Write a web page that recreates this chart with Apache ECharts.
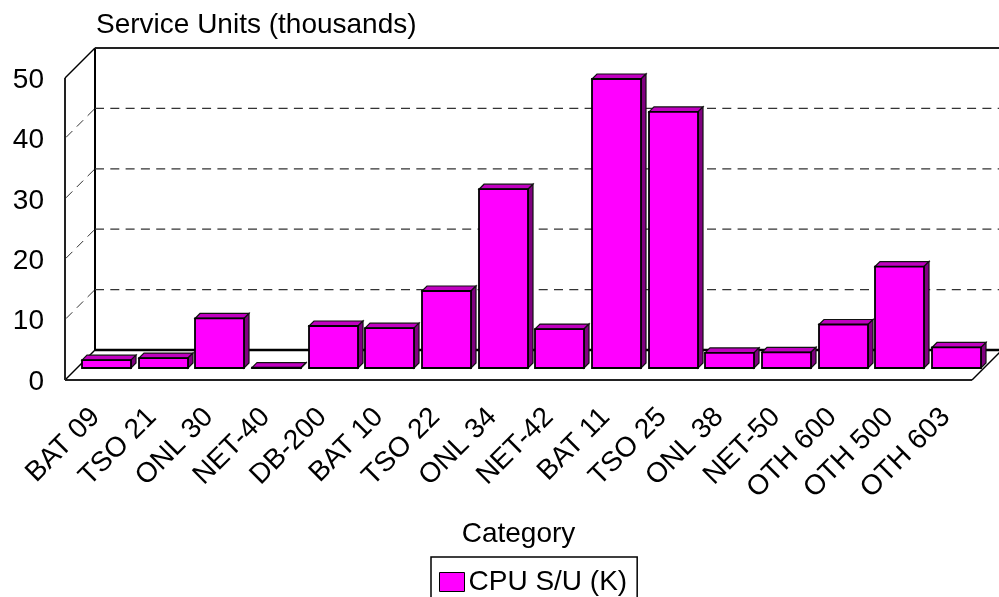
<!DOCTYPE html>
<html>
<head>
<meta charset="utf-8">
<style>html,body{margin:0;padding:0;background:#fff}#c{width:999px;height:597px}</style>
<script src="https://cdn.jsdelivr.net/npm/echarts@6/dist/echarts.min.js"></script>
</head>
<body>
<div id="c"></div>
<script>
const categories = ['BAT 09','TSO 21','ONL 30','NET-40','DB-200','BAT 10','TSO 22','ONL 34','NET-42','BAT 11','TSO 25','ONL 38','NET-50','OTH 600','OTH 500','OTH 603'];
const cpuValues = [1.3,1.65,8.2,0.05,6.95,6.6,12.75,29.6,6.45,47.85,42.4,2.5,2.6,7.2,16.8,3.4];
const yTicks = [0,10,20,30,40,50];

const FONT = '"Liberation Sans", Arial, sans-serif';
const WALL = 30, BAR_DX = 13, BAR_DY = 12, BAR_DEPTH = 5, BAR_RATIO = 0.864;
const LINE = '#000';

function line(x1,y1,x2,y2,width,dash,color){
  return {type:'line',shape:{x1,y1,x2,y2},silent:true,
    style:{stroke:color||LINE,lineWidth:width,lineDash:dash||null,fill:null}};
}

function renderFrame(params, api){
  const v = api.value(1);
  const cs = params.coordSys;
  const y = api.coord([0,v])[1];
  const l = cs.x, r = cs.x+cs.width;
  const kids = [];
  if(v===0){
    kids.push(line(l,y,r,y,2,null,'#222'));
    kids.push(line(l,y,l+WALL,y-WALL,1.5));
    kids.push(line(r,y,r+WALL,y-WALL,1.5));
    kids.push(line(l+WALL,y-WALL,r+WALL,y-WALL,2.5));
    kids.push(line(l,cs.y,l,y,2,null,'#222'));
    kids.push(line(l+WALL,cs.y-WALL,l+WALL,y-WALL,2));
  } else if(v===50){
    kids.push(line(l,y,l+WALL,y-WALL,1.5));
    kids.push(line(l+WALL,y-WALL,r+WALL,y-WALL,2,null,'#222'));
  } else {
    kids.push(line(l+WALL,y-WALL,r+WALL,y-WALL,1.2,[9,6.3],'#333'));
    kids.push(line(l+1,y-1,l+WALL-1,y-WALL+1,1,[9,6.3],'#333'));
  }
  return {type:'group',children:kids};
}

function renderBar(params, api){
  const i = api.value(0), v = api.value(1);
  const base = api.coord([i,0]), top = api.coord([i,v]);
  const w = api.size([1,0])[0]*BAR_RATIO;
  const x0 = Math.round(base[0]+BAR_DX-w/2), x1 = x0+Math.round(w);
  const yb = base[1]-BAR_DY, yt = top[1]-BAR_DY, d = BAR_DEPTH;
  const thin = {stroke:'#111',lineWidth:1.2,lineJoin:'miter'};
  return {type:'group',children:[
    {type:'polygon',shape:{points:[[x0,yt],[x0+d,yt-d],[x1+d,yt-d],[x1,yt]]},style:{...thin,fill:'#c000c0'}},
    {type:'polygon',shape:{points:[[x1,yt],[x1+d,yt-d],[x1+d,yb-d],[x1,yb]]},style:{...thin,fill:'#800080'}},
    {type:'rect',shape:{x:x0,y:yt,width:x1-x0,height:yb-yt},style:{stroke:'#000',lineWidth:1.8,fill:'#ff00ff'}}
  ]};
}

const chart = echarts.init(document.getElementById('c'),null,{renderer:'canvas'});
chart.setOption({
  animation:false,
  backgroundColor:'#fff',
  grid:{left:65,top:78,width:907,height:302,containLabel:false},
  xAxis:{type:'category',data:categories,
    axisLine:{show:false},axisTick:{show:false},splitLine:{show:false},
    axisLabel:{rotate:45,interval:0,fontFamily:FONT,fontSize:28,color:'#000',margin:35,padding:[0,-3,0,0]},
    name:'Category',nameLocation:'middle',nameGap:154,
    nameTextStyle:{fontFamily:FONT,fontSize:28,color:'#000',verticalAlign:'middle'}},
  yAxis:{type:'value',min:0,max:50,interval:10,
    axisLine:{show:false},axisTick:{show:false},splitLine:{show:false},
    axisLabel:{fontFamily:FONT,fontSize:28,color:'#000',margin:21,verticalAlign:'top',padding:[-12,0,0,0]},
    name:'Service Units (thousands)',nameLocation:'end',nameGap:53,
    nameTextStyle:{fontFamily:FONT,fontSize:28,color:'#000',align:'left',verticalAlign:'middle',padding:[0,0,0,31]}},
  legend:{left:431,top:557,orient:'horizontal',data:[{name:'CPU S/U (K)',icon:'rect',itemStyle:{borderWidth:1}}],
    itemWidth:25,itemHeight:19,itemGap:0,padding:[11,10,8,8],
    borderColor:'#000',borderWidth:1.5,backgroundColor:'#fff',
    textStyle:{fontFamily:FONT,fontSize:28,color:'#000',padding:[0,0,3,-1]}},
  series:[
    {type:'custom',name:'frame',coordinateSystem:'cartesian2d',clip:false,z:1,silent:true,
     data:yTicks.map(t=>[0,t]),encode:{y:1},renderItem:renderFrame},
    {type:'custom',name:'CPU S/U (K)',coordinateSystem:'cartesian2d',clip:false,z:2,
     itemStyle:{color:'#ff00ff',borderColor:'#000',borderWidth:1},
     data:cpuValues.map((v,i)=>[i,v]),encode:{x:0,y:1},renderItem:renderBar}
  ]
});
</script>
</body>
</html>
